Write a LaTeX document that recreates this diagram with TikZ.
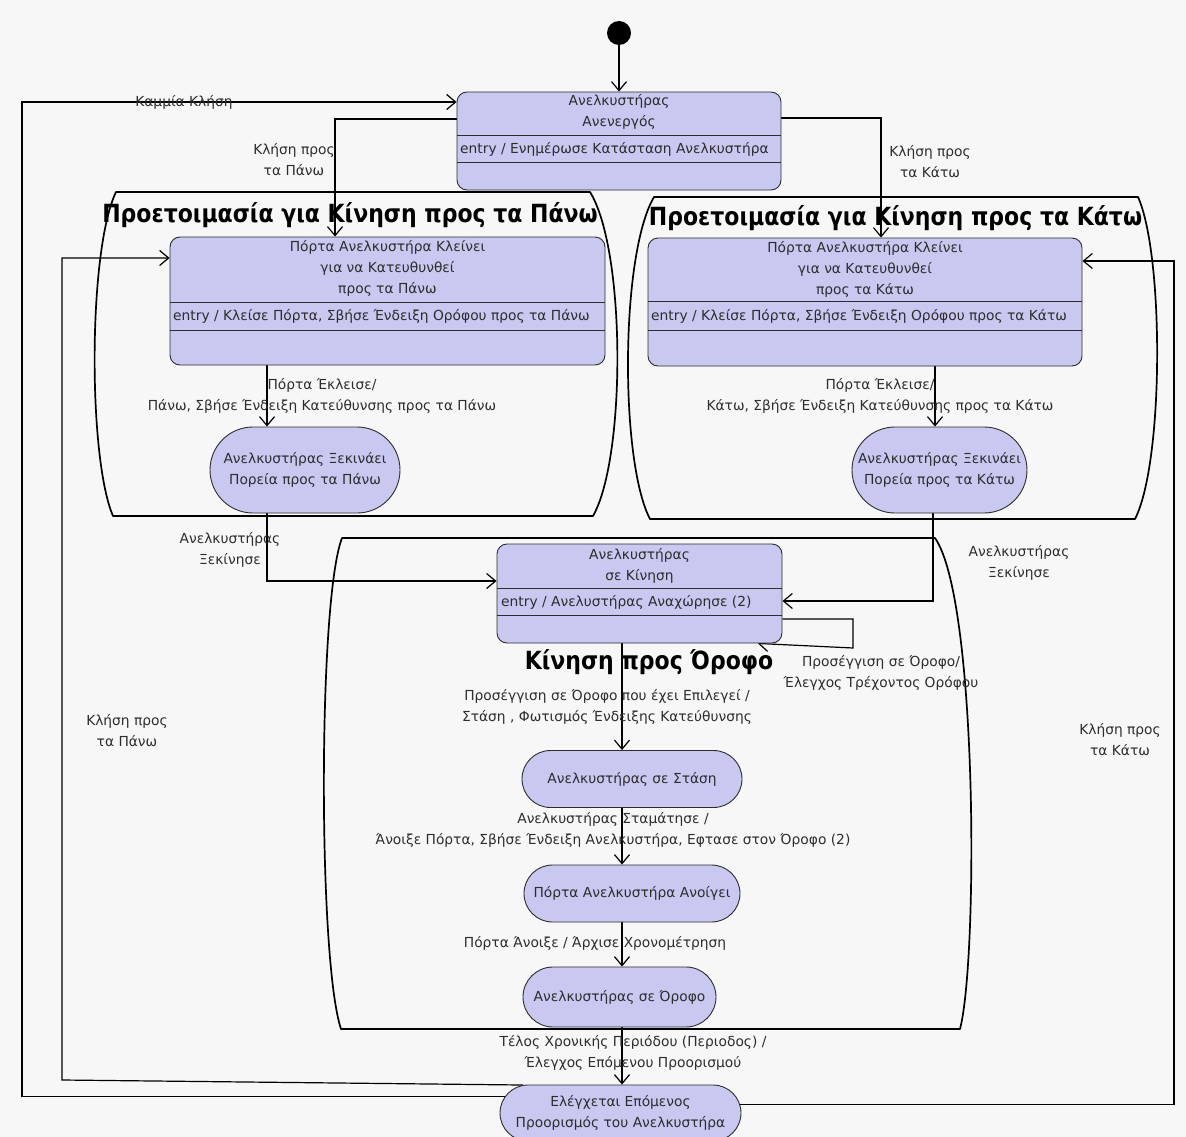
\documentclass[tikz,border=0pt]{standalone}
\usepackage{fontspec}
\setmainfont{DejaVu Sans}
\newfontfamily\ttlfam{DejaVu Sans}[FakeStretch=0.88]
\usetikzlibrary{arrows.meta,shapes.misc}
\newcommand\lbltxt{\fontsize{13.8}{21}\selectfont}
\newcommand\ttlfont{\ttlfam\bfseries\fontsize{25}{28}\selectfont}
\definecolor{statefill}{RGB}{200,200,240}
\definecolor{ink}{RGB}{45,45,45}
\definecolor{pagebg}{RGB}{247,247,247}
\pgfdeclarelayer{bg}
\pgfdeclarelayer{edges}
\pgfsetlayers{bg,edges,main}
\begin{document}
\begin{tikzpicture}[x=1pt,y=-1pt,
  cbox/.style={draw=ink, fill=statefill, rounded corners=10pt, line width=0.9pt, inner sep=0pt},
  sbox/.style={rounded rectangle, draw=ink, fill=statefill, line width=0.9pt, inner sep=0pt, font=\lbltxt, text=ink, align=center},
  txt/.style={font=\lbltxt, text=ink, inner sep=0pt, align=center},
  ttl/.style={font=\ttlfont, text=black, inner sep=0pt},
  arr/.style={line width=1.2pt, -{Straight Barb[length=9pt,width=15pt]}},
  comp/.style={line width=1.7pt, line join=round},
  div/.style={draw=ink, line width=0.9pt}]
\begin{pgfonlayer}{bg}
  \fill[pagebg] (0,0) rectangle (1186,1137);
\end{pgfonlayer}
\useasboundingbox (0,0) rectangle (1186,1137);

% initial pseudo-state
\node[circle, fill=black, minimum size=24pt, inner sep=0pt] (init) at (619,33) {};

% idle state with entry compartment
\node[cbox, minimum width=324pt, minimum height=98pt] (idle) at (619,141) {};
\draw[div] (idle.west |- 0,135) -- (idle.east |- 0,135);
\draw[div] (idle.west |- 0,162) -- (idle.east |- 0,162);
\node[txt] (idleN) at (619,112) {Ανελκυστήρας\\Ανενεργός};
\node[txt, anchor=west] (idleE) at (460,149) {entry / Ενημέρωσε Κατάσταση Ανελκυστήρα};

% preparing to move up
\node[cbox, minimum width=435pt, minimum height=128pt] (upA) at (387.5,301) {};
\draw[div] (upA.west |- 0,302) -- (upA.east |- 0,302);
\draw[div] (upA.west |- 0,330) -- (upA.east |- 0,330);
\node[txt] (upAN) at (387.5,268) {Πόρτα Ανελκυστήρα Κλείνει\\για να Κατευθυνθεί\\προς τα Πάνω};
\node[txt, anchor=west] (upAE) at (173,316) {entry / Κλείσε Πόρτα, Σβήσε Ένδειξη Ορόφου προς τα Πάνω};
\node[sbox, minimum width=190pt, minimum height=86pt] (upB) at (305,470) {Ανελκυστήρας Ξεκινάει\\Πορεία προς τα Πάνω};

% preparing to move down
\node[cbox, minimum width=434pt, minimum height=128pt] (downA) at (865,302) {};
\draw[div] (downA.west |- 0,301) -- (downA.east |- 0,301);
\draw[div] (downA.west |- 0,330) -- (downA.east |- 0,330);
\node[txt] (downAN) at (865,269) {Πόρτα Ανελκυστήρα Κλείνει\\για να Κατευθυνθεί\\προς τα Κάτω};
\node[txt, anchor=west] (downAE) at (651,316) {entry / Κλείσε Πόρτα, Σβήσε Ένδειξη Ορόφου προς τα Κάτω};
\node[sbox, minimum width=175pt, minimum height=86pt] (downB) at (939.5,470) {Ανελκυστήρας Ξεκινάει\\Πορεία προς τα Κάτω};

% moving to floor
\node[cbox, minimum width=285pt, minimum height=99pt] (move) at (639.5,593.5) {};
\draw[div] (move.west |- 0,588) -- (move.east |- 0,588);
\draw[div] (move.west |- 0,615) -- (move.east |- 0,615);
\node[txt] (moveN) at (639.5,566) {Ανελκυστήρας\\σε Κίνηση};
\node[txt, anchor=west] (moveE) at (501,602) {entry / Ανελυστήρας Αναχώρησε (2)};
\node[sbox, minimum width=220pt, minimum height=57pt] (stop) at (632,779) {Ανελκυστήρας σε Στάση};
\node[sbox, minimum width=216pt, minimum height=57pt] (open) at (632,893.5) {Πόρτα Ανελκυστήρα Ανοίγει};
\node[sbox, minimum width=193pt, minimum height=60pt] (atfloor) at (619.5,997) {Ανελκυστήρας σε Όροφο};
\node[sbox, minimum width=241pt, minimum height=56pt] (check) at (620.5,1113) {Ελέγχεται Επόμενος\\Προορισμός του Ανελκυστήρα};

% composite state titles
\node[ttl] (tUp) at (350,215) {Προετοιμασία για Κίνηση προς τα Πάνω};
\node[ttl] (tDown) at (895.5,218) {Προετοιμασία για Κίνηση προς τα Κάτω};
\node[ttl] (tMove) at (649,662) {Κίνηση προς Όροφο};

% transition labels
\node[txt] (lNone) at (184,102) {Καμμία Κλήση};
\node[txt] (lUp1) at (294,160) {Κλήση προς\\τα Πάνω};
\node[txt] (lDown1) at (930,162) {Κλήση προς\\τα Κάτω};
\node[txt] (lUpClosed) at (322,396) {Πόρτα Έκλεισε/\\Πάνω, Σβήσε Ένδειξη Κατεύθυνσης προς τα Πάνω};
\node[txt] (lDownClosed) at (880,396) {Πόρτα Έκλεισε/\\Κάτω, Σβήσε Ένδειξη Κατεύθυνσης προς τα Κάτω};
\node[txt] (lUpStart) at (230,550) {Ανελκυστήρας\\Ξεκίνησε};
\node[txt] (lDownStart) at (1019,563) {Ανελκυστήρας\\Ξεκίνησε};
\node[txt] (lLoop) at (881,673) {Προσέγγιση σε Όροφο/\\Έλεγχος Τρέχοντος Ορόφου};
\node[txt] (lArrive) at (607,707) {Προσέγγιση σε Όροφο που έχει Επιλεγεί /\\Στάση , Φωτισμός Ένδειξης Κατεύθυνσης};
\node[txt] (lStopped) at (613,830) {Ανελκυστήρας Σταμάτησε /\\Άνοιξε Πόρτα, Σβήσε Ένδειξη Ανελκυστήρα, Εφτασε στον Όροφο (2)};
\node[txt] (lOpened) at (595,943) {Πόρτα Άνοιξε / Άρχισε Χρονομέτρηση};
\node[txt] (lTimeout) at (633,1053) {Τέλος Χρονικής Περιόδου (Περιοδος) /\\Έλεγχος Επόμενου Προορισμού};
\node[txt] (lUp2) at (127,731) {Κλήση προς\\τα Πάνω};
\node[txt] (lDown2) at (1120,740) {Κλήση προς\\τα Κάτω};

\begin{pgfonlayer}{edges}
  % composite state outlines
  \draw[comp] (116,192) -- (590,192) .. controls (626,250) and (626,458) .. (593,516)
    -- (113,516) .. controls (88,458) and (88,250) .. cycle;
  \draw[comp] (654,197) -- (1138,197) .. controls (1164,255) and (1164,462) .. (1135,519)
    -- (650,519) .. controls (620,462) and (620,255) .. cycle;
  \draw[comp] (342,538) -- (935,538) .. controls (978,600) and (978,960) .. (960,1029)
    -- (341,1029) .. controls (318,960) and (318,600) .. cycle;

  % transitions
  \draw[arr] (init) -- (idle);
  \draw[arr] (idle.west |- 0,119) -| (upA.north -| 335,0);
  \draw[arr] (idle.east |- 0,118) -| (downA.north -| 881,0);
  \draw[arr] (check.172) -| (22,102) -- (idle.west |- 0,102);
  \draw[arr] (check.164) -- (62,1080) |- (upA.west |- 0,258);
  \draw[arr] (check.4) -| (1174,261) -- (downA.east |- 0,261);
  \draw[arr] (upA.south -| 267,0) -- (upB.north -| 267,0);
  \draw[arr] (downA.south -| 935,0) -- (downB.north -| 935,0);
  \draw[arr] (upB.south -| 267,0) |- (move.west |- 0,581);
  \draw[arr] (downB.south -| 933,0) |- (move.east |- 0,601);
  \draw[arr] (move.east |- 0,619) -| (853,648) -- (move.south -| 758,0);
  \draw[arr] (move.south -| 622,0) -- (stop.north -| 622,0);
  \draw[arr] (stop.south -| 622,0) -- (open.north -| 622,0);
  \draw[arr] (open.south -| 622,0) -- (atfloor.north -| 622,0);
  \draw[arr] (atfloor.south -| 622,0) -- (check.north -| 622,0);
\end{pgfonlayer}
\end{tikzpicture}
\end{document}
